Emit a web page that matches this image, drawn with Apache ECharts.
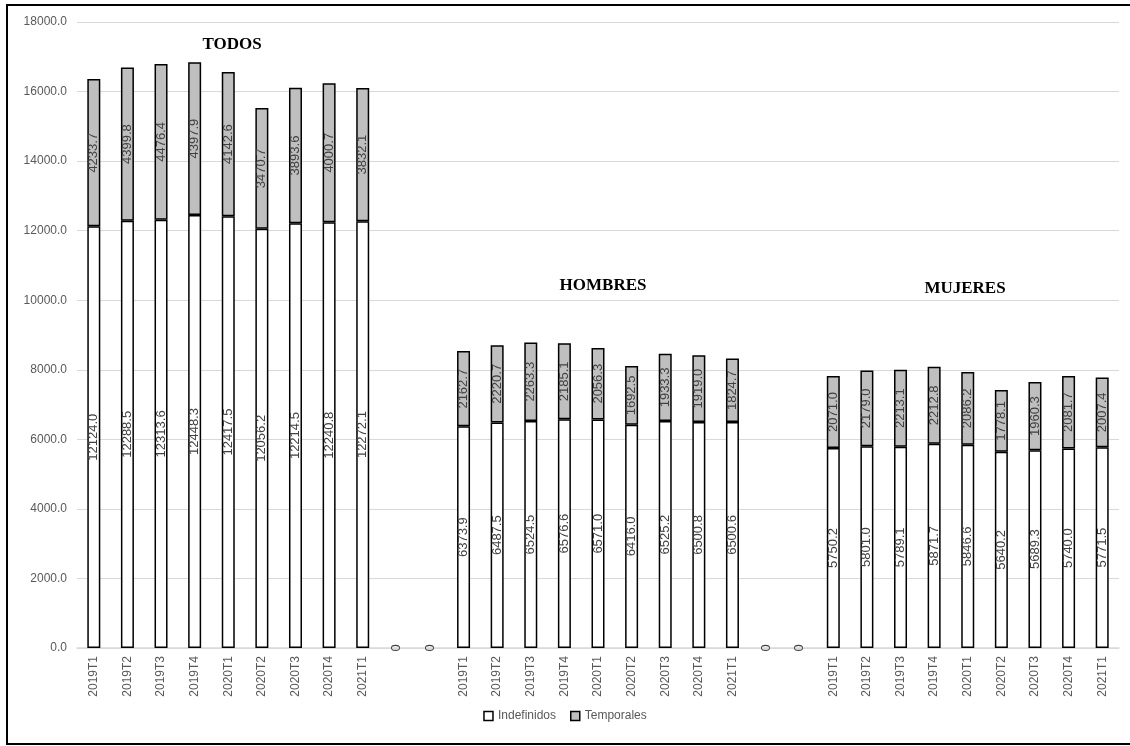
<!DOCTYPE html>
<html>
<head>
<meta charset="utf-8">
<script src="https://cdn.jsdelivr.net/npm/echarts@6/dist/echarts.min.js"></script>
<style>
  html, body { margin: 0; padding: 0; background: #fff; }
  #chart { width: 1130px; height: 746px; }
</style>
</head>
<body>
<div id="chart"></div>
<script>
// Quarters shown in each panel
const quarters = ['2019T1', '2019T2', '2019T3', '2019T4', '2020T1', '2020T2', '2020T3', '2020T4', '2021T1'];
const groupNames = ['TODOS', 'HOMBRES', 'MUJERES'];

// Indefinidos (permanent contracts), thousands
const todosIndef   = [12124.0, 12288.5, 12313.6, 12448.3, 12417.5, 12056.2, 12214.5, 12240.8, 12272.1];
const hombresIndef = [6373.9, 6487.5, 6524.5, 6576.6, 6571.0, 6416.0, 6525.2, 6500.8, 6500.6];
const mujeresIndef = [5750.2, 5801.0, 5789.1, 5871.7, 5846.6, 5640.2, 5689.3, 5740.0, 5771.5];

// Temporales (temporary contracts), thousands
const todosTemp   = [4233.7, 4399.8, 4476.4, 4397.9, 4142.6, 3470.7, 3893.6, 4000.7, 3832.1];
const hombresTemp = [2162.7, 2220.7, 2263.3, 2185.1, 2056.3, 1692.5, 1933.3, 1919.0, 1824.7];
const mujeresTemp = [2071.0, 2179.0, 2213.1, 2212.8, 2086.2, 1778.1, 1960.3, 2081.7, 2007.4];

// Two empty separator columns between panels
const gapCount = 2;

const yTicks = { min: 0, max: 18000, interval: 2000 };

// Build the combined category axis and series from the panel arrays
const categories = [];
const indefData = [];
const tempData = [];
const panels = [
  [todosIndef, todosTemp],
  [hombresIndef, hombresTemp],
  [mujeresIndef, mujeresTemp]
];
panels.forEach(function (p, i) {
  quarters.forEach(function (q, j) {
    categories.push(q);
    indefData.push(p[0][j]);
    tempData.push(p[1][j]);
  });
  if (i < panels.length - 1) {
    for (let g = 0; g < gapCount; g++) {
      categories.push('');
      // separator columns hold a zero value with no outline
      indefData.push({ value: 0, itemStyle: { borderWidth: 0 } });
      tempData.push('-');
    }
  }
});

const labelStyle = {
  show: true,
  position: 'inside',
  rotate: 90,
  color: '#404040',
  fontSize: 13,
  fontFamily: 'Liberation Sans, Arial, sans-serif',
  formatter: function (p) {
    const v = Number(p.value);
    return v === 0 ? '0' : v.toFixed(1);
  }
};

const titleFont = {
  fontFamily: 'Liberation Serif, Times New Roman, serif',
  fontWeight: 'bold',
  fontSize: 17,
  color: '#000'
};

const chart = echarts.init(document.getElementById('chart'), null, { renderer: 'canvas' });

chart.setOption({
  backgroundColor: '#fff',
  animation: false,
  title: [
    { text: groupNames[0], left: 227, top: 31, textAlign: 'center', textStyle: titleFont },
    { text: groupNames[1], left: 598, top: 272, textAlign: 'center', textStyle: titleFont },
    { text: groupNames[2], left: 960, top: 275, textAlign: 'center', textStyle: titleFont }
  ],
  graphic: [
    {
      type: 'rect',
      shape: { x: 7, y: 5, width: 1140, height: 739 },
      style: { fill: 'none', stroke: '#000', lineWidth: 2 },
      silent: true
    }
  ],
  legend: {
    bottom: 19,
    left: 'center',
    itemWidth: 9,
    itemHeight: 9,
    itemGap: 14,
    icon: 'rect',
    textStyle: { color: '#595959', fontSize: 12, fontFamily: 'Liberation Sans, Arial, sans-serif' },
    data: [
      { name: 'Indefinidos', itemStyle: { color: '#fff', borderColor: '#000', borderWidth: 1.5 } },
      { name: 'Temporales', itemStyle: { color: '#bfbfbf', borderColor: '#000', borderWidth: 1.5 } }
    ]
  },
  grid: { left: 77, right: 11, top: 22, bottom: 98, containLabel: false },
  xAxis: {
    type: 'category',
    data: categories,
    axisLine: { lineStyle: { color: '#d9d9d9', width: 1.5 } },
    axisTick: { show: false },
    axisLabel: {
      interval: 0,
      rotate: 90,
      margin: 8,
      color: '#595959',
      fontSize: 12,
      fontFamily: 'Liberation Sans, Arial, sans-serif'
    }
  },
  yAxis: {
    type: 'value',
    min: yTicks.min,
    max: yTicks.max,
    interval: yTicks.interval,
    axisLine: { show: false },
    axisTick: { show: false },
    splitLine: { lineStyle: { color: '#d9d9d9', width: 1 } },
    axisLabel: {
      margin: 10,
      color: '#595959',
      fontSize: 12,
      fontFamily: 'Liberation Sans, Arial, sans-serif',
      formatter: function (v) { return v.toFixed(1); }
    }
  },
  series: [
    {
      name: 'Indefinidos',
      type: 'bar',
      stack: 'total',
      barWidth: 13,
      data: indefData,
      itemStyle: { color: '#fff', borderColor: '#000', borderWidth: 1.5 },
      label: labelStyle
    },
    {
      name: 'Temporales',
      type: 'bar',
      stack: 'total',
      barWidth: 13,
      data: tempData,
      itemStyle: { color: '#bfbfbf', borderColor: '#000', borderWidth: 1.5 },
      label: labelStyle
    }
  ]
});
</script>
</body>
</html>
